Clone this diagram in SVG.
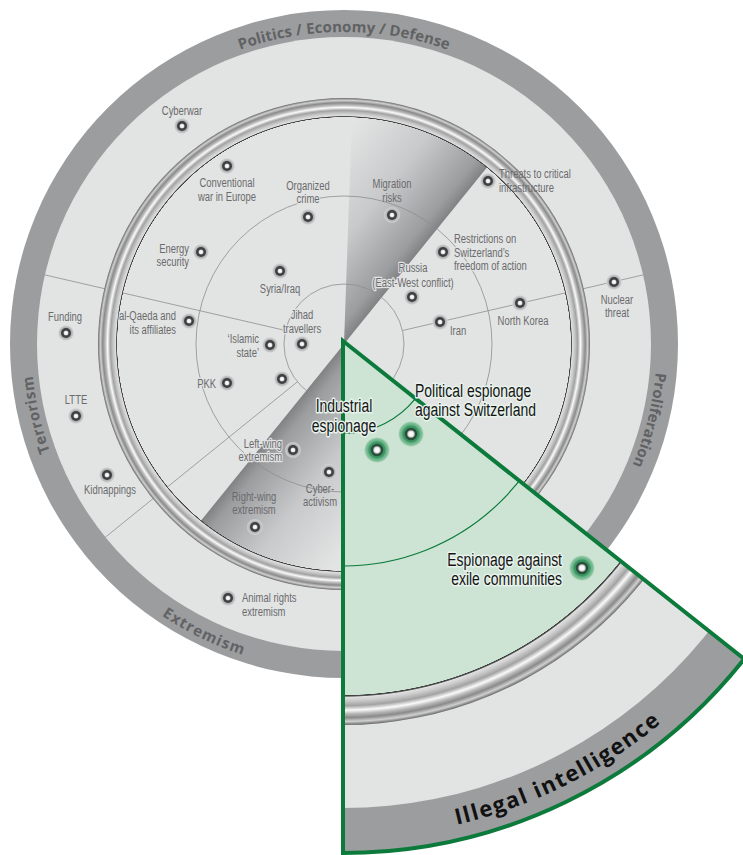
<svg xmlns="http://www.w3.org/2000/svg" width="743" height="855" viewBox="0 0 743 855">
<defs>
<style>
.lbl{font-family:"Liberation Sans",Arial,sans-serif;font-size:12px;fill:#6a6b6d;stroke:#e2e3e3;stroke-width:2.5px;stroke-linejoin:round;paint-order:stroke}
.nh{stroke:none}
.wl{font-family:"Liberation Sans",Arial,sans-serif;font-size:18px;fill:#141414;stroke:#e8f3ec;stroke-width:3px;stroke-linejoin:round;paint-order:stroke}
.sect{font-family:"Open Sans","DejaVu Sans",sans-serif;font-weight:700;font-size:15px;fill:#616264}
.ill{font-family:"Open Sans","DejaVu Sans",sans-serif;font-weight:700;font-size:22px;fill:#111111}
.ring{fill:none;stroke:#8d8e90;stroke-width:0.8}
.ray{stroke:#8d8e90;stroke-width:0.8}
.garc{fill:none;stroke:#0b7a3b;stroke-width:1.2}
.c{text-anchor:middle}
.r{text-anchor:end}
</style>
<radialGradient id="tube">
<stop offset="0" stop-color="#444" stop-opacity="0"/>
<stop offset="0.9215" stop-color="#444" stop-opacity="0"/>
<stop offset="0.9228" stop-color="#3a3a3a"/>
<stop offset="0.9251" stop-color="#555"/>
<stop offset="0.9274" stop-color="#e0e0e0"/>
<stop offset="0.9367" stop-color="#cbcbcb"/>
<stop offset="0.9498" stop-color="#a2a2a2"/>
<stop offset="0.9614" stop-color="#fafafa"/>
<stop offset="0.9707" stop-color="#b9b9b9"/>
<stop offset="0.9807" stop-color="#8a8a8a"/>
<stop offset="0.9907" stop-color="#d0d0d0"/>
<stop offset="0.9969" stop-color="#8a8a8a"/>
<stop offset="1" stop-color="#666"/>
</radialGradient>
<linearGradient id="lobeU" gradientUnits="userSpaceOnUse" x1="438.4" y1="227.4" x2="337.4" y2="145.6">
<stop offset="0" stop-color="#818284"/>
<stop offset="0.1" stop-color="#9c9d9f"/>
<stop offset="0.5" stop-color="#c8c9ca"/>
<stop offset="1" stop-color="#e2e3e3"/>
</linearGradient>
<linearGradient id="lobeL" gradientUnits="userSpaceOnUse" x1="249.6" y1="460.6" x2="350.6" y2="542.4">
<stop offset="0" stop-color="#818284"/>
<stop offset="0.1" stop-color="#9c9d9f"/>
<stop offset="0.5" stop-color="#c8c9ca"/>
<stop offset="1" stop-color="#e2e3e3"/>
</linearGradient>
<radialGradient id="halo">
<stop offset="0" stop-color="#8e8f91"/>
<stop offset="0.6" stop-color="#a9aaac"/>
<stop offset="0.82" stop-color="#c9cacb"/>
<stop offset="1" stop-color="#e2e3e3" stop-opacity="0"/>
</radialGradient>
<radialGradient id="hole">
<stop offset="0" stop-color="#ffffff"/>
<stop offset="0.6" stop-color="#f2f2f2"/>
<stop offset="1" stop-color="#b0b0b0"/>
</radialGradient>
<radialGradient id="ghalo">
<stop offset="0" stop-color="#3f9a65"/>
<stop offset="0.65" stop-color="#5fae80"/>
<stop offset="0.85" stop-color="#8cc5a0"/>
<stop offset="1" stop-color="#cde4d5" stop-opacity="0"/>
</radialGradient>
<g id="dot">
<circle r="8.5" fill="url(#halo)"/>
<circle r="5" fill="#3f4042"/>
<circle r="2.5" fill="url(#hole)"/>
</g>
<g id="gdot">
<circle r="13.5" fill="url(#ghalo)"/>
<circle r="8.5" fill="#3b9663"/>
<circle r="6.3" fill="#2a4f3a"/>
<circle r="3.8" fill="url(#hole)"/>
</g>
<path id="pTop" d="M165 88.4 A312 312 0 0 1 523 88.4"/>
<path id="pRight" d="M646.3 263 A313 313 0 0 1 572.9 557.5"/>
<path id="pLeft" d="M104.2 545.2 A313 313 0 0 1 40.3 268.3"/>
<path id="pBottom" d="M133.8 594.5 A327 327 0 0 0 276 663.9"/>
<path id="pIll" d="M386.3 836.1 A497 497 0 0 0 712.3 673.6"/>
<clipPath id="wclip"><path d="M343 341 L744.2 659 A512 512 0 0 1 343 853 Z"/></clipPath>
</defs>

<g id="main-disc">
<circle cx="344" cy="344" r="334" fill="#9c9d9f"/>
<circle cx="344" cy="344" r="307" fill="#e2e3e3"/>
<path d="M344 344 L487.5 166.8 A228 228 0 0 0 352 116.1 Z" fill="url(#lobeU)"/>
<path d="M344 344 L200.5 521.2 A228 228 0 0 0 344 572 Z" fill="url(#lobeL)"/>
<circle class="ring" cx="344" cy="344" r="60"/>
<circle class="ring" cx="344" cy="344" r="148"/>
</g>

<g id="connectors">
<line class="ray" x1="285.5" y1="330.5" x2="44.9" y2="274.9"/>
<line class="ray" x1="402.5" y1="330.5" x2="643.1" y2="274.9"/>
<line class="ray" x1="297.4" y1="381.8" x2="105.4" y2="537.2"/>
</g>

<g id="main-tube">
<circle cx="344" cy="344" r="246" fill="url(#tube)"/>
</g>

<g id="sector-labels">
<text class="sect c"><textPath href="#pTop" startOffset="50%" textLength="212" lengthAdjust="spacing">Politics / Economy / Defense</textPath></text>
<text class="sect c"><textPath href="#pRight" startOffset="50%" textLength="96" lengthAdjust="spacing">Proliferation</textPath></text>
<text class="sect c"><textPath href="#pLeft" startOffset="50%" textLength="78" lengthAdjust="spacing">Terrorism</textPath></text>
<text class="sect c"><textPath href="#pBottom" startOffset="50%" textLength="90" lengthAdjust="spacing">Extremism</textPath></text>
</g>

<g id="n-cyberwar"><use href="#dot" x="182" y="126"/><text class="lbl c" transform="translate(182 115) scale(.786 1)">Cyberwar</text></g>
<g id="n-conventional-war"><use href="#dot" x="227" y="166"/><text class="lbl c" transform="translate(227 187) scale(.786 1)">Conventional<tspan x="0" y="14">war in Europe</tspan></text></g>
<g id="n-organized-crime"><use href="#dot" x="308" y="217"/><text class="lbl c" transform="translate(308 190) scale(.786 1)">Organized<tspan x="0" y="13">crime</tspan></text></g>
<g id="n-energy-security"><use href="#dot" x="201" y="252"/><text class="lbl r" transform="translate(189 253) scale(.786 1)">Energy<tspan x="0" y="13">security</tspan></text></g>
<g id="n-syria-iraq"><use href="#dot" x="280" y="271"/><text class="lbl c" transform="translate(280 293) scale(.786 1)">Syria/Iraq</text></g>
<g id="n-migration-risks"><use href="#dot" x="392" y="215"/><text class="lbl nh c" transform="translate(392 188) scale(.786 1)">Migration<tspan x="0" y="14">risks</tspan></text></g>
<g id="n-critical-infrastructure"><use href="#dot" x="488" y="181"/><text class="lbl nh" transform="translate(499 178) scale(.786 1)">Threats to critical<tspan x="0" y="14">infrastructure</tspan></text></g>
<g id="n-restrictions"><use href="#dot" x="443" y="252"/><text class="lbl" transform="translate(454 243) scale(.786 1)">Restrictions on<tspan x="0" y="14">Switzerland’s</tspan><tspan x="0" y="27">freedom of action</tspan></text></g>
<g id="n-russia"><use href="#dot" x="412" y="297"/><text class="lbl c" transform="translate(413 272) scale(.786 1)">Russia<tspan x="0" y="15">(East-West conflict)</tspan></text></g>
<g id="n-iran"><use href="#dot" x="440" y="322"/><text class="lbl" transform="translate(450 335) scale(.786 1)">Iran</text></g>
<g id="n-north-korea"><use href="#dot" x="520" y="303"/><text class="lbl c" transform="translate(523 325) scale(.786 1)">North Korea</text></g>
<g id="n-nuclear-threat"><use href="#dot" x="614" y="282"/><text class="lbl c" transform="translate(617 304) scale(.786 1)">Nuclear<tspan x="0" y="13">threat</tspan></text></g>
<g id="n-funding"><use href="#dot" x="66" y="333"/><text class="lbl c" transform="translate(65 321) scale(.786 1)">Funding</text></g>
<g id="n-al-qaeda"><use href="#dot" x="189" y="321"/><text class="lbl r" transform="translate(176 320) scale(.786 1)">al-Qaeda and<tspan x="0" y="14">its affiliates</tspan></text></g>
<g id="n-jihad-travellers"><use href="#dot" x="302" y="344"/><text class="lbl c" transform="translate(302 319) scale(.786 1)">Jihad<tspan x="0" y="14">travellers</tspan></text></g>
<g id="n-islamic-state"><use href="#dot" x="270" y="345"/><text class="lbl r" transform="translate(259 343) scale(.786 1)">‘Islamic<tspan x="0" y="14">state’</tspan></text></g>
<g id="n-pkk"><use href="#dot" x="227" y="383"/><text class="lbl r" transform="translate(216 388) scale(.786 1)">PKK</text></g>
<g id="n-unlabelled"><use href="#dot" x="282" y="379"/></g>
<g id="n-ltte"><use href="#dot" x="76" y="416"/><text class="lbl c" transform="translate(76 404) scale(.786 1)">LTTE</text></g>
<g id="n-left-wing"><use href="#dot" x="293" y="450"/><text class="lbl r" transform="translate(282 448) scale(.786 1)">Left-wing<tspan x="0" y="13">extremism</tspan></text></g>
<g id="n-cyber-activism"><use href="#dot" x="329" y="472"/><text class="lbl nh c" transform="translate(320 493) scale(.786 1)">Cyber-<tspan x="0" y="13">activism</tspan></text></g>
<g id="n-kidnappings"><use href="#dot" x="107" y="475"/><text class="lbl c" transform="translate(110 494) scale(.786 1)">Kidnappings</text></g>
<g id="n-right-wing"><use href="#dot" x="255" y="527"/><text class="lbl nh c" transform="translate(254 501) scale(.786 1)">Right-wing<tspan x="0" y="13">extremism</tspan></text></g>
<g id="n-animal-rights"><use href="#dot" x="228" y="598"/><text class="lbl" transform="translate(242 602) scale(.786 1)">Animal rights<tspan x="0" y="14">extremism</tspan></text></g>

<g id="wedge-illegal-intelligence">
<g clip-path="url(#wclip)">
<circle cx="343" cy="341" r="512" fill="#9c9d9f"/>
<circle cx="343" cy="341" r="467" fill="#e2e3e3"/>
<circle cx="343" cy="341" r="357" fill="#cde4d5"/>
<circle cx="343" cy="341" r="384" fill="url(#tube)"/>
<circle class="garc" cx="343" cy="341" r="92.5"/>
<circle class="garc" cx="343" cy="341" r="225"/>
</g>
<path d="M343 341 L744.2 659 A512 512 0 0 1 343 853 Z" fill="none" stroke="#0b7a3b" stroke-width="4" stroke-miterlimit="10"/>
<text class="ill c"><textPath href="#pIll" startOffset="50%" textLength="230" lengthAdjust="spacing">Illegal intelligence</textPath></text>
</g>

<g id="w-industrial"><use href="#gdot" x="377" y="450"/><text class="wl c" transform="translate(344 412) scale(.775 1)">Industrial<tspan x="0" y="20">espionage</tspan></text></g>
<g id="w-political"><use href="#gdot" x="411" y="434"/><text class="wl" transform="translate(415 397) scale(.775 1)">Political espionage<tspan x="0" y="19">against Switzerland</tspan></text></g>
<g id="w-exile"><use href="#gdot" x="582" y="568"/><text class="wl r" transform="translate(562 566) scale(.775 1)">Espionage against<tspan x="0" y="19">exile communities</tspan></text></g>
</svg>
